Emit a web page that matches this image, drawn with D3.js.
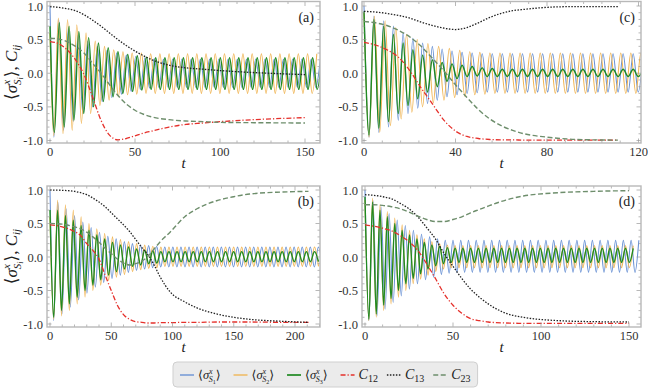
<!DOCTYPE html>
<html>
<head>
<meta charset="utf-8">
<script src="https://cdn.jsdelivr.net/npm/d3@7"></script>
<style>
  body { margin: 0; background: #fff; }
  svg { display: block; }
  text { font-family: "Liberation Serif", "Times New Roman", "DejaVu Serif", serif; }
</style>
</head>
<body>
<svg id="chart" width="648" height="390" font-family="Liberation Serif, Times New Roman, serif"></svg>
<script>
// ---------------- data ----------------
// correlation curves, sampled at the listed times
const tA = [0, 5, 10, 15, 20, 25, 30, 35, 40, 45, 50, 55, 60, 70, 80, 90, 100, 120, 150];
const c12A = [0.47, 0.44, 0.35, 0.2, -0.02, -0.35, -0.7, -0.92, -0.99, -0.97, -0.93, -0.89, -0.86, -0.8, -0.76, -0.74, -0.72, -0.69, -0.66];
const c13A = [0.99, 0.98, 0.96, 0.93, 0.87, 0.79, 0.7, 0.6, 0.5, 0.41, 0.33, 0.26, 0.2, 0.12, 0.08, 0.06, 0.04, 0.01, -0.02];
const c23A = [0.52, 0.51, 0.47, 0.4, 0.3, 0.15, 0, -0.17, -0.33, -0.46, -0.55, -0.61, -0.65, -0.69, -0.71, -0.72, -0.73, -0.735, -0.74];

const tB = [0, 10, 20, 25, 30, 35, 40, 45, 50, 55, 60, 65, 70, 75, 80, 85, 90, 98, 110, 120, 136, 150, 163, 190, 211];
const c12B = [0.48, 0.45, 0.38, 0.32, 0.2, 0.1, -0.03, -0.27, -0.5, -0.72, -0.86, -0.93, -0.965, -0.975, -0.985, -0.985, -0.98, -0.98, -0.975, -0.975, -0.97, -0.97, -0.97, -0.975, -0.975];
const c13B = [1.0, 0.995, 0.98, 0.96, 0.93, 0.88, 0.82, 0.75, 0.66, 0.57, 0.48, 0.38, 0.26, 0.14, 0.03, -0.12, -0.3, -0.52, -0.67, -0.76, -0.85, -0.9, -0.93, -0.96, -0.975];
const c23B = [0.5, 0.49, 0.45, 0.42, 0.37, 0.3, 0.22, 0.13, 0.05, -0.03, -0.09, -0.12, -0.1, -0.06, 0.01, 0.12, 0.23, 0.37, 0.6, 0.72, 0.84, 0.9, 0.94, 0.97, 0.98];

const tC = [0, 5, 10, 15, 20, 25, 30, 35, 40, 45, 50, 55, 60, 65, 70, 80, 90, 100, 111];
const c12C = [0.46, 0.42, 0.35, 0.24, 0.04, -0.22, -0.46, -0.7, -0.86, -0.94, -0.97, -0.985, -0.99, -0.99, -0.995, -0.995, -0.995, -0.995, -0.995];
const c13C = [0.92, 0.91, 0.89, 0.86, 0.82, 0.76, 0.71, 0.67, 0.65, 0.68, 0.75, 0.83, 0.89, 0.93, 0.95, 0.98, 0.99, 0.99, 0.99];
const c23C = [0.77, 0.75, 0.71, 0.64, 0.54, 0.4, 0.22, 0.03, -0.17, -0.36, -0.54, -0.68, -0.78, -0.85, -0.9, -0.95, -0.98, -0.99, -0.995];

const tD = [0, 5, 10, 15, 20, 25, 30, 35, 40, 45, 50, 55, 60, 65, 70, 80, 90, 110, 130, 150];
const c12D = [0.48, 0.46, 0.43, 0.39, 0.32, 0.23, 0.1, -0.1, -0.32, -0.55, -0.72, -0.84, -0.92, -0.95, -0.97, -0.985, -0.99, -0.99, -0.99, -0.99];
const c13D = [0.93, 0.92, 0.9, 0.87, 0.8, 0.72, 0.6, 0.44, 0.27, 0.05, -0.14, -0.32, -0.48, -0.6, -0.7, -0.84, -0.9, -0.95, -0.965, -0.97];
const c23D = [0.78, 0.78, 0.77, 0.75, 0.72, 0.67, 0.61, 0.56, 0.53, 0.53, 0.56, 0.6, 0.66, 0.71, 0.76, 0.85, 0.91, 0.96, 0.98, 0.99];

// spin expectation values: successive extrema (trough, peak, ...)
// start = [value at t=0, time of first extremum, early half period, number of early extrema]
const halfA = 2.715;
const startA = [[1.0, 2.3, 2.84, 16], [0.6, 2.19, 2.715, 0], [0.7, 2.6, 2.875, 16]];
const s1A = [-0.95, 0.8, -0.85, 0.68, -0.72, 0.57, -0.6, 0.48, -0.5, 0.4, -0.42, 0.34, -0.36, 0.3, -0.31, 0.27, -0.27, 0.25, -0.24, 0.23, -0.22, 0.22, -0.21, 0.21,
  -0.21, 0.21, -0.21, 0.21, -0.21, 0.21, -0.21, 0.21, -0.21, 0.21, -0.21, 0.21, -0.21, 0.21, -0.21, 0.21, -0.21, 0.21, -0.21, 0.21, -0.21, 0.21, -0.21, 0.21, -0.21, 0.21, -0.21, 0.21, -0.21, 0.21, -0.21, 0.21, -0.21, 0.21];
const s2A = [-0.93, 0.82, -0.9, 0.8, -0.85, 0.72, -0.75, 0.6, -0.6, 0.48, -0.48, 0.4, -0.4, 0.35, -0.35, 0.32, -0.32, 0.3, -0.31, 0.3, -0.3, 0.29,
  -0.3, 0.29, -0.3, 0.29, -0.3, 0.29, -0.3, 0.29, -0.3, 0.29, -0.3, 0.29, -0.3, 0.29, -0.3, 0.29, -0.3, 0.29, -0.3, 0.29, -0.3, 0.29, -0.3, 0.29, -0.3, 0.29, -0.3, 0.29, -0.3, 0.29, -0.3, 0.29, -0.3, 0.29, -0.3, 0.29];
const s3A = [-0.88, 0.75, -0.8, 0.7, -0.7, 0.62, -0.6, 0.53, -0.5, 0.45, -0.42, 0.38, -0.35, 0.32, -0.3, 0.28, -0.27, 0.26, -0.25, 0.24, -0.24, 0.23,
  -0.24, 0.23, -0.24, 0.23, -0.24, 0.23, -0.24, 0.23, -0.24, 0.23, -0.24, 0.23, -0.24, 0.23, -0.24, 0.23, -0.24, 0.23, -0.24, 0.23, -0.24, 0.23, -0.24, 0.23, -0.24, 0.23, -0.24, 0.23, -0.24, 0.23, -0.24, 0.23, -0.24, 0.23, -0.24, 0.23];

const halfB = 3.3;
const startB = [[1.0, 3.0, 3.4, 16], [0.6, 3.0, 3.2, 16], [0.7, 3.0, 3.2, 16]];
const s1B = [-0.95, 0.82, -0.85, 0.72, -0.75, 0.62, -0.64, 0.52, -0.54, 0.44, -0.45, 0.37, -0.38, 0.31, -0.32, 0.27, -0.27, 0.23, -0.23, 0.2, -0.2, 0.18, -0.18, 0.17, -0.16, 0.16, -0.15, 0.15,
  -0.15, 0.15, -0.15, 0.15, -0.15, 0.15, -0.15, 0.15, -0.15, 0.15, -0.15, 0.15, -0.15, 0.15, -0.15, 0.15, -0.15, 0.15, -0.15, 0.15, -0.15, 0.15, -0.15, 0.15, -0.15, 0.15, -0.15, 0.15, -0.15, 0.15, -0.15, 0.15, -0.15, 0.15, -0.15, 0.15, -0.15, 0.15, -0.15];
const s2B = [-0.93, 0.85, -0.88, 0.78, -0.8, 0.7, -0.7, 0.6, -0.6, 0.5, -0.5, 0.42, -0.42, 0.35, -0.35, 0.3, -0.3, 0.26, -0.26, 0.23, -0.22, 0.2, -0.19, 0.18, -0.17, 0.16, -0.16, 0.15,
  -0.14, 0.15, -0.14, 0.15, -0.14, 0.15, -0.14, 0.15, -0.14, 0.15, -0.14, 0.15, -0.14, 0.15, -0.14, 0.15, -0.14, 0.15, -0.14, 0.15, -0.14, 0.15, -0.14, 0.15, -0.14, 0.15, -0.14, 0.15, -0.14, 0.15, -0.14, 0.15, -0.14, 0.15, -0.14, 0.15, -0.14, 0.15, -0.14];
const s3B = [-0.9, 0.7, -0.8, 0.62, -0.7, 0.55, -0.6, 0.47, -0.5, 0.4, -0.42, 0.33, -0.34, 0.27, -0.27, 0.22, -0.22, 0.18, -0.18, 0.15, -0.14, 0.12, -0.12, 0.1, -0.1, 0.09, -0.09, 0.08,
  -0.07, 0.08, -0.07, 0.08, -0.07, 0.08, -0.07, 0.08, -0.07, 0.08, -0.07, 0.08, -0.07, 0.08, -0.07, 0.08, -0.07, 0.08, -0.07, 0.08, -0.07, 0.08, -0.07, 0.08, -0.07, 0.08, -0.07, 0.08, -0.07, 0.08, -0.07, 0.08, -0.07, 0.08, -0.07, 0.08, -0.07, 0.08, -0.07];

const halfC = 2.2;
const startC = [[1.0, 2.2, 2.13, 16], [0.9, 2.2, 2.34, 16], [0.92, 2.2, 2.13, 16]];
const s1C = [-0.95, 0.85, -0.88, 0.78, -0.8, 0.7, -0.7, 0.6, -0.6, 0.52, -0.52, 0.45, -0.45, 0.4, -0.4, 0.36, -0.35, 0.33, -0.32, 0.31, -0.3, 0.3, -0.29, 0.29, -0.28, 0.29,
  -0.28, 0.29, -0.28, 0.29, -0.28, 0.29, -0.28, 0.29, -0.28, 0.29, -0.28, 0.29, -0.28, 0.29, -0.28, 0.29, -0.28, 0.29, -0.28, 0.29, -0.28, 0.29, -0.28, 0.29, -0.28, 0.29, -0.28, 0.29, -0.28, 0.29];
const s2C = [-0.95, 0.85, -0.88, 0.78, -0.78, 0.68, -0.68, 0.58, -0.58, 0.5, -0.5, 0.44, -0.44, 0.4, -0.4, 0.37, -0.36, 0.34, -0.34, 0.32, -0.32, 0.31, -0.31, 0.3, -0.3, 0.3,
  -0.3, 0.3, -0.3, 0.3, -0.3, 0.3, -0.3, 0.3, -0.3, 0.3, -0.3, 0.3, -0.3, 0.3, -0.3, 0.3, -0.3, 0.3, -0.3, 0.3, -0.3, 0.3, -0.3, 0.3, -0.3, 0.3, -0.3, 0.3, -0.3, 0.3];
const s3C = [-0.92, 0.8, -0.82, 0.7, -0.72, 0.58, -0.6, 0.45, -0.48, 0.35, -0.38, 0.27, -0.28, 0.2, -0.2, 0.16, -0.12, 0.14, -0.08, 0.12, -0.05, 0.1, -0.04, 0.08, -0.05, 0.07,
  -0.05, 0.06, -0.05, 0.06, -0.05, 0.06, -0.05, 0.06, -0.05, 0.06, -0.05, 0.06, -0.05, 0.06, -0.05, 0.06, -0.05, 0.06, -0.05, 0.06, -0.05, 0.06, -0.05, 0.06, -0.05, 0.06, -0.05, 0.06, -0.05, 0.06];

const halfD = 2.2;
const startD = [[1.0, 2.2, 2.3, 16], [0.85, 2.2, 2.1, 16], [0.9, 2.2, 2.1, 16]];
const s1D = [-0.95, 0.85, -0.88, 0.75, -0.78, 0.65, -0.68, 0.55, -0.58, 0.47, -0.48, 0.4, -0.4, 0.34, -0.34, 0.3, -0.3, 0.27, -0.26, 0.25, -0.24, 0.25,
  -0.23, 0.25, -0.23, 0.25, -0.23, 0.25, -0.23, 0.25, -0.23, 0.25, -0.23, 0.25, -0.23, 0.25, -0.23, 0.25, -0.23, 0.25, -0.23, 0.25, -0.23, 0.25, -0.23, 0.25, -0.23, 0.25, -0.23, 0.25,
  -0.23, 0.25, -0.23, 0.25, -0.23, 0.25, -0.23, 0.25, -0.23, 0.25, -0.23, 0.25, -0.23, 0.25, -0.23, 0.25, -0.23, 0.25, -0.23, 0.25];
const s2D = [-0.95, 0.88, -0.9, 0.78, -0.8, 0.68, -0.7, 0.58, -0.6, 0.48, -0.5, 0.4, -0.4, 0.33, -0.33, 0.27, -0.27, 0.23, -0.22, 0.2, -0.18, 0.18,
  -0.16, 0.17, -0.16, 0.17, -0.16, 0.17, -0.16, 0.17, -0.16, 0.17, -0.16, 0.17, -0.16, 0.17, -0.16, 0.17, -0.16, 0.17, -0.16, 0.17, -0.16, 0.17, -0.16, 0.17, -0.16, 0.17, -0.16, 0.17,
  -0.16, 0.17, -0.16, 0.17, -0.16, 0.17, -0.16, 0.17, -0.16, 0.17, -0.16, 0.17, -0.16, 0.17, -0.16, 0.17, -0.16, 0.17, -0.16, 0.17];
const s3D = [-0.93, 0.82, -0.85, 0.7, -0.72, 0.6, -0.62, 0.5, -0.5, 0.4, -0.4, 0.33, -0.32, 0.27, -0.25, 0.22, -0.18, 0.18, -0.13, 0.16, -0.1, 0.14,
  -0.08, 0.13, -0.08, 0.13, -0.08, 0.13, -0.08, 0.13, -0.08, 0.13, -0.08, 0.13, -0.08, 0.13, -0.08, 0.13, -0.08, 0.13, -0.08, 0.13, -0.08, 0.13, -0.08, 0.13, -0.08, 0.13, -0.08, 0.13,
  -0.08, 0.13, -0.08, 0.13, -0.08, 0.13, -0.08, 0.13, -0.08, 0.13, -0.08, 0.13, -0.08, 0.13, -0.08, 0.13, -0.08, 0.13, -0.08, 0.13];

const xTicksA = [0, 50, 100, 150];
const xTicksB = [0, 50, 100, 150, 200];
const xTicksC = [0, 40, 80, 120];
const xTicksD = [0, 50, 100, 150];
const yTicks = [-1, -0.5, 0, 0.5, 1];
const panelNames = ["(a)", "(b)", "(c)", "(d)"];

// ---------------- styles ----------------
const SERIF = "Liberation Serif, Times New Roman, DejaVu Serif, serif";
const spinStyle = [
  { color: "#6a92d4", width: 1.1 },
  { color: "#f0b657", width: 1.1 },
  { color: "#1f8a22", width: 1.4 },
];
const corrStyle = [
  { color: "#e5302b", width: 1.3, dash: "5,2,1.2,2" },
  { color: "#222222", width: 1.3, dash: "1.5,1.5" },
  { color: "#6e8e6c", width: 1.4, dash: "5,2.5" },
];

const panels = [
  { frame: [47, 1.5, 320, 143], xd: [0, 150], xr: [50, 305], yr: [6, 140.5], xt: xTicksA, minor: 10,
    t: tA, c: [c12A, c13A, c23A], half: halfA, start: startA, s: [s1A, s2A, s3A] },
  { frame: [47, 186, 320, 327], xd: [0, 200], xr: [50, 295], yr: [190, 324], xt: xTicksB, minor: 10,
    t: tB, c: [c12B, c13B, c23B], half: halfB, start: startB, s: [s1B, s2B, s3B] },
  { frame: [362, 1.5, 641, 143], xd: [0, 80], xr: [364, 547], yr: [6, 140.5], xt: xTicksC, minor: 8,
    t: tC, c: [c12C, c13C, c23C], half: halfC, start: startC, s: [s1C, s2C, s3C] },
  { frame: [362, 186, 641, 327], xd: [0, 150], xr: [365, 629], yr: [190, 324], xt: xTicksD, minor: 10,
    t: tD, c: [c12D, c13D, c23D], half: halfD, start: startD, s: [s1D, s2D, s3D] },
];

const svg = d3.select("#chart");

// extrema list -> [t, value] points
function spinPoints(st, vals, half) {
  const [v0, t0, h1, n1] = st;
  const pts = [[0, v0]];
  vals.forEach((v, k) => {
    const t = t0 + Math.min(k, n1) * h1 + Math.max(0, k - n1) * half;
    pts.push([t, v]);
  });
  return pts;
}

panels.forEach((p, i) => {
  const [fx0, fy0, fx1, fy1] = p.frame;
  const x = d3.scaleLinear().domain(p.xd).range(p.xr);
  const y = d3.scaleLinear().domain([1, -1]).range(p.yr);
  const g = svg.append("g");

  g.append("clipPath").attr("id", "clip" + i)
    .append("rect").attr("x", fx0).attr("y", fy0).attr("width", fx1 - fx0).attr("height", fy1 - fy0);

  const plot = g.append("g").attr("clip-path", `url(#clip${i})`);
  const line = d3.line().x(d => x(d[0])).y(d => y(d[1])).curve(d3.curveMonotoneX);

  p.s.forEach((vals, j) => {
    plot.append("path")
      .attr("d", line(spinPoints(p.start[j], vals, p.half)))
      .attr("fill", "none")
      .attr("stroke", spinStyle[j].color)
      .attr("stroke-width", spinStyle[j].width);
  });

  p.c.forEach((vals, j) => {
    plot.append("path")
      .attr("d", line(p.t.map((t, k) => [t, vals[k]])))
      .attr("fill", "none")
      .attr("stroke", corrStyle[j].color)
      .attr("stroke-width", corrStyle[j].width)
      .attr("stroke-dasharray", corrStyle[j].dash);
  });

  // frame with inward ticks on all sides
  const tickCol = "#9a9a9a";
  const tmin = x.invert(fx0), tmax = x.invert(fx1);
  const xMinor = d3.range(Math.ceil(tmin / p.minor) * p.minor, tmax, p.minor);
  xMinor.forEach(v => {
    const major = p.xt.includes(v);
    const len = major ? 4.5 : 2.5;
    g.append("line").attr("x1", x(v)).attr("x2", x(v)).attr("y1", fy1).attr("y2", fy1 - len).attr("stroke", tickCol).attr("stroke-width", 0.7);
    g.append("line").attr("x1", x(v)).attr("x2", x(v)).attr("y1", fy0).attr("y2", fy0 + len).attr("stroke", tickCol).attr("stroke-width", 0.7);
  });
  d3.range(-10, 11).map(k => k / 10).forEach(v => {
    const yy = y(v);
    if (yy < fy0 || yy > fy1) return;
    const major = Math.abs(v * 2 - Math.round(v * 2)) < 1e-6;
    const len = major ? 4.5 : 2.5;
    g.append("line").attr("y1", yy).attr("y2", yy).attr("x1", fx0).attr("x2", fx0 + len).attr("stroke", tickCol).attr("stroke-width", 0.7);
    g.append("line").attr("y1", yy).attr("y2", yy).attr("x1", fx1).attr("x2", fx1 - len).attr("stroke", tickCol).attr("stroke-width", 0.7);
  });
  g.append("rect").attr("x", fx0).attr("y", fy0).attr("width", fx1 - fx0).attr("height", fy1 - fy0)
    .attr("fill", "none").attr("stroke", "#b8b8b8").attr("stroke-width", 1.4);

  // tick labels
  p.xt.forEach(v => {
    g.append("text").attr("x", x(v)).attr("y", fy1 + 13).attr("text-anchor", "middle")
      .attr("font-family", SERIF).attr("font-size", 12.5).attr("fill", "#333").text(v);
  });
  yTicks.forEach(v => {
    g.append("text").attr("x", fx0 - 4).attr("y", y(v) + 4.5).attr("text-anchor", "end")
      .attr("font-family", SERIF).attr("font-size", 12.5).attr("fill", "#333")
      .text(d3.format(".1f")(v).replace("−", "-"));
  });

  // axis title t
  g.append("text").attr("x", (fx0 + fx1) / 2).attr("y", fy1 + 25).attr("text-anchor", "middle")
    .attr("font-family", SERIF).attr("font-size", 15).attr("font-style", "italic").attr("fill", "#222").text("t");

  // panel tag
  g.append("text").attr("x", fx1 - 6).attr("y", fy0 + 20).attr("text-anchor", "end")
    .attr("font-family", SERIF).attr("font-size", 14).attr("fill", "#222").text(panelNames[i]);

  // y title on the left column
  if (fx0 < 100) {
    const cy = (fy0 + fy1) / 2;
    const t = g.append("text").attr("transform", `translate(17,${cy}) rotate(-90)`)
      .attr("text-anchor", "middle").attr("font-family", SERIF).attr("font-size", 17).attr("fill", "#222");
    t.append("tspan").text("⟨");
    t.append("tspan").attr("font-style", "italic").text("σ");
    t.append("tspan").attr("font-size", 11).attr("font-style", "italic").attr("dy", -7).text("x");
    t.append("tspan").attr("font-size", 11).attr("font-style", "italic").attr("dx", -5).attr("dy", 11).text("S");
    t.append("tspan").attr("font-size", 8).attr("font-style", "italic").attr("dy", 2).text("i");
    t.append("tspan").attr("dy", -6).text("⟩, ");
    t.append("tspan").attr("font-style", "italic").text("C");
    t.append("tspan").attr("font-size", 11).attr("font-style", "italic").attr("dy", 3).text("ij");
  }
});

// ---------------- legend ----------------
const legend = svg.append("g");
const lgBox = legend.append("rect").attr("x", 173).attr("y", 362).attr("height", 25).attr("rx", 4)
  .attr("fill", "#ebebeb").attr("stroke", "#cfcfcf").attr("stroke-width", 1);
let lx = 180;
const ly = 375;
const legendItems = [
  { style: spinStyle[0], sub: "1", kind: "s" },
  { style: spinStyle[1], sub: "2", kind: "s" },
  { style: spinStyle[2], sub: "3", kind: "s" },
  { style: corrStyle[0], sub: "12", kind: "c" },
  { style: corrStyle[1], sub: "13", kind: "c" },
  { style: corrStyle[2], sub: "23", kind: "c" },
];
legendItems.forEach(it => {
  legend.append("line").attr("x1", lx).attr("x2", lx + 14).attr("y1", ly).attr("y2", ly)
    .attr("stroke", it.style.color).attr("stroke-width", it.style.width + 0.3)
    .attr("stroke-dasharray", it.style.dash || null);
  const t = legend.append("text").attr("x", lx + 18).attr("y", ly + 4)
    .attr("font-family", SERIF).attr("font-size", 12.5).attr("fill", "#222");
  if (it.kind === "s") {
    t.append("tspan").text("⟨");
    t.append("tspan").attr("font-style", "italic").text("σ");
    t.append("tspan").attr("font-size", 8).attr("font-style", "italic").attr("dy", -5).text("x");
    t.append("tspan").attr("font-size", 8).attr("font-style", "italic").attr("dx", -4).attr("dy", 8).text("S");
    t.append("tspan").attr("font-size", 6).attr("dy", 2).text(it.sub);
    t.append("tspan").attr("dy", -5).text("⟩");
  } else {
    t.append("tspan").attr("font-style", "italic").attr("font-size", 14).text("C");
    t.append("tspan").attr("font-size", 10).attr("dy", 3).text(it.sub);
  }
  lx += 18 + t.node().getComputedTextLength() + 9;
});
lgBox.attr("width", lx - 173 - 2);
</script>
</body>
</html>
